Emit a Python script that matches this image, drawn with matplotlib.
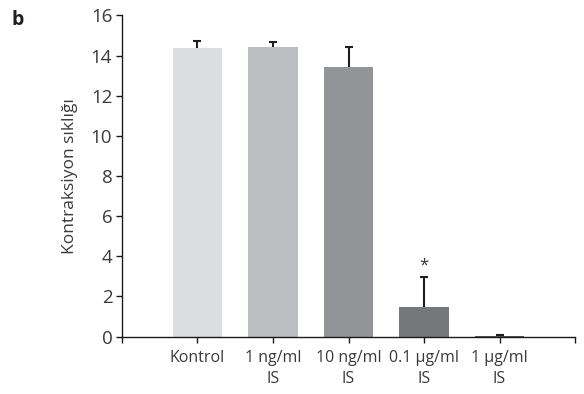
import matplotlib
matplotlib.use("Agg")
import matplotlib.pyplot as plt
import numpy as np

plt.rcParams['font.family'] = ['Open Sans', 'DejaVu Sans']

categories = ["Kontrol", "1 ng/ml\nIS", "10 ng/ml\nIS", "0.1 µg/ml\nIS", "1 µg/ml\nIS"]
means = [14.37, 14.45, 13.42, 1.47, 0.04]
sem = [0.37, 0.25, 1.00, 1.50, 0.05]
colors = ["#dcdddf", "#bcbdc1", "#939498", "#76777b", "#58595b"]
significant = [False, False, False, True, False]

fig = plt.figure(figsize=(5.84, 3.94), dpi=100)
ax = fig.add_axes([0.2089, 0.1459, 0.7757, 0.8148])

x = np.arange(len(categories))
ax.bar(x, means, width=0.65, color=colors, zorder=2)
_, caps, _ = ax.errorbar(x, means, yerr=[np.zeros(len(sem)), sem], fmt='none',
                         ecolor='#1e1e1e', elinewidth=1.5, capsize=3,
                         capthick=1.5, zorder=3)
# only the upper whisker is shown
caps[0].set_visible(False)

for xi, m, s, sig in zip(x, means, sem, significant):
    if sig:
        ax.text(xi, m + s + 0.15, "*", ha='center', va='bottom',
                fontsize=12, color='#333333')

ax.set_xlim(-1, 5)
ax.set_ylim(0, 16)
ax.set_yticks(np.arange(0, 17, 2))
ax.set_xticks(np.concatenate([[-1], x, [5]]))
ax.set_xticklabels([""] + categories + [""], linespacing=1.4)
ax.tick_params(axis='both', direction='out', length=4, width=1,
               colors='#1a1a1a', labelcolor='#3a3a3a')
ax.tick_params(axis='y', labelsize=13.5, pad=3)
ax.tick_params(axis='x', pad=6, labelsize=11.5)

for side in ('top', 'right'):
    ax.spines[side].set_visible(False)
for side in ('left', 'bottom'):
    ax.spines[side].set_linewidth(1)
    ax.spines[side].set_color('#1a1a1a')

ax.set_ylabel("Kontraksiyon sıklığı", fontsize=12.5, color='#3a3a3a', labelpad=9)

fig.text(0.02, 0.975, "b", fontsize=14, fontweight='bold', color='#231f20',
         ha='left', va='top')

fig.savefig("out.png", dpi=100)
